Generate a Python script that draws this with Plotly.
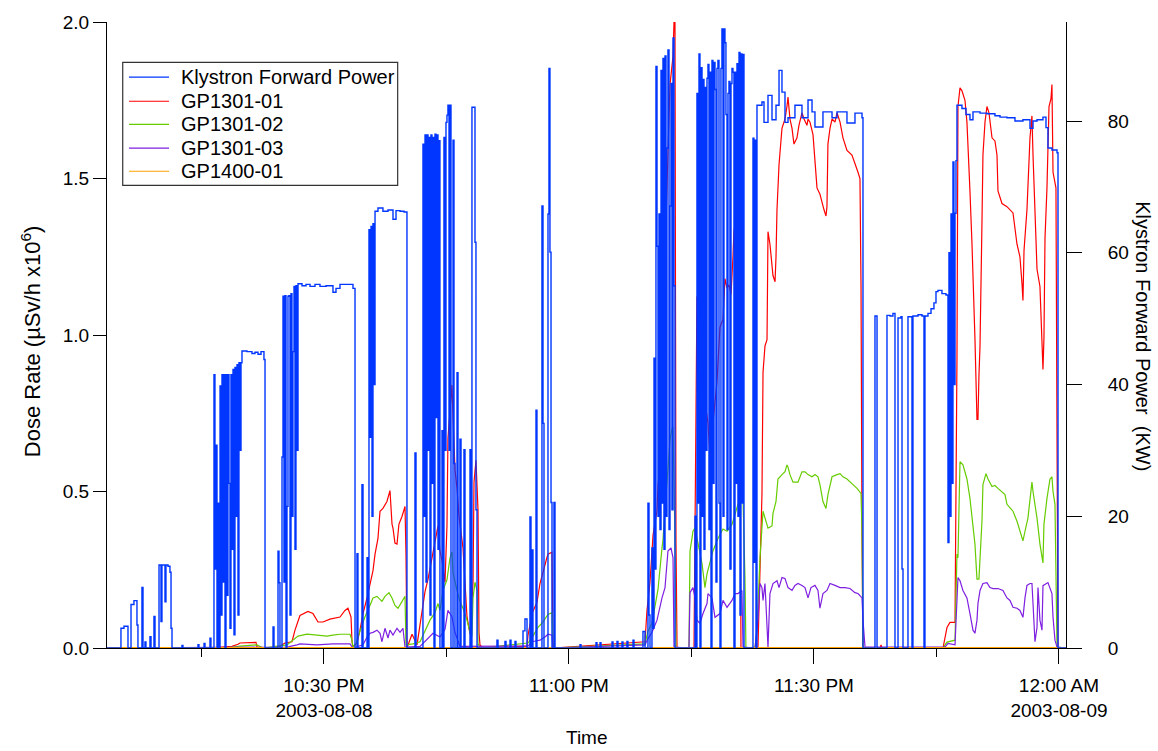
import pandas as pd
import plotly.graph_objects as go

START = pd.Timestamp("2003-08-08 22:00:00")

# Each series: (minutes after 22:00, value)
klystron_forward_power_kw = [
    (3.43, 0), (5.14, 3.0), (5.51, 3.3), (6.00, 0), (6.37, 6.6), (6.73, 7.2), (7.10, 3.5), (7.22, 0),
    (7.71, 9.2), (7.84, 0), (8.08, 0.9), (8.20, 0), (8.69, 1.7), (8.82, 0), (9.18, 4.8), (9.31, 0),
    (9.80, 12.6), (10.04, 4.0), (10.16, 12.6), (10.53, 7.0), (10.65, 12.6), (10.90, 12.4), (11.14, 11.5),
    (11.27, 3.0), (11.39, 0), (12.61, 0.4), (12.73, 0), (14.57, 0.5), (14.69, 0), (15.31, 0.7), (15.43, 0),
    (16.04, 1.5), (16.16, 0),
    (16.53, 41.5), (16.65, 12), (16.78, 30.8), (16.90, 0), (17.02, 22), (17.14, 0), (17.27, 39.8), (17.39, 5),
    (17.51, 41.5), (17.63, 10), (17.76, 41.5), (17.88, 0), (18.00, 41.5), (18.12, 8), (18.24, 41.5), (18.37, 25),
    (18.49, 3), (18.61, 41.5), (18.73, 15), (18.86, 42.3), (18.98, 2), (19.10, 42.6), (19.22, 20), (19.35, 43.0),
    (19.47, 5), (19.59, 43.3), (19.71, 30), (19.84, 43.3),
    (19.96, 45.1), (20.57, 45.0), (21.18, 44.7), (21.55, 44.9), (21.92, 44.6), (22.29, 45.0), (22.65, 43.8),
    (22.78, 0), (23.76, 3.2), (23.88, 0),
    (24.37, 14.7), (24.49, 9.9), (24.61, 0), (24.86, 29), (24.98, 53.4), (25.10, 10), (25.22, 53.5), (25.35, 0),
    (25.47, 21.5), (25.59, 53.4), (25.71, 53.5), (25.84, 5), (25.96, 53.8), (26.08, 20), (26.20, 45),
    (26.33, 54.9), (26.45, 15), (26.57, 55.0), (26.69, 30), (26.82, 55.3),
    (27.31, 55.0), (27.80, 55.2), (28.29, 54.9), (28.90, 55.2), (29.51, 54.9), (30.25, 55.0), (31.10, 54.0),
    (31.47, 54.6), (31.96, 55.2), (32.69, 55.2), (33.55, 54.6), (33.80, 0),
    (34.04, 14.3), (34.16, 0), (34.65, 24.8), (34.78, 0), (35.27, 13.7), (35.39, 0), (35.51, 63.5), (35.63, 32),
    (35.76, 64.0), (35.88, 20), (36.00, 64.4), (36.12, 40),
    (36.25, 66.3), (36.61, 66.8), (37.22, 66.3), (37.84, 66.5), (38.45, 65.1), (38.82, 66.4), (39.31, 66.3),
    (39.80, 66.2), (40.16, 0),
    (41.14, 29.6), (41.27, 0), (42.12, 76.5), (42.25, 20), (42.37, 77.9), (42.49, 10), (42.61, 77.9), (42.74, 30),
    (42.86, 77.5), (42.98, 5), (43.10, 77.9), (43.22, 25), (43.35, 77.5), (43.47, 0), (43.59, 78.0), (43.72, 35),
    (43.84, 77.9), (43.96, 15), (44.08, 77.0), (44.20, 0), (44.45, 33), (44.57, 0), (44.69, 77.5), (44.82, 30),
    (44.94, 79.8), (45.06, 80.9), (45.18, 82.4), (45.31, 30), (45.43, 82.4), (45.55, 0), (45.80, 77.1),
    (45.92, 28), (46.04, 0),
    (46.29, 41.8), (46.41, 0), (46.65, 31.7), (46.78, 0), (47.14, 30.1), (47.27, 0), (47.88, 30.1), (48.00, 0),
    (48.12, 82.1), (48.37, 82.1), (48.49, 61.6), (48.61, 21), (48.74, 0),
    (51.18, 1.2), (51.31, 0), (52.16, 1.0), (52.29, 0), (52.78, 1.2), (52.90, 0), (53.39, 1.0), (53.51, 0),
    (54.37, 2.6), (54.61, 4.4), (54.86, 0),
    (55.22, 19.9), (55.35, 0), (55.47, 14.9), (55.59, 0), (55.96, 36.1), (56.08, 0), (56.69, 67.1), (56.82, 34.1),
    (56.94, 0), (57.43, 65.9), (57.55, 88.0), (57.67, 60.1), (57.80, 22.1), (57.92, 0), (58.16, 22.1), (58.29, 0),
    (61.35, 0.5), (61.47, 0), (63.31, 0.8), (63.43, 0), (63.80, 0.8), (63.92, 0), (65.27, 0.9), (65.39, 0),
    (65.88, 1.0), (66.00, 0), (66.49, 0.9), (66.61, 0), (67.10, 1.0), (67.22, 0), (67.84, 1.2), (67.96, 0),
    (69.06, 2.5), (69.31, 0), (69.67, 22), (69.80, 5), (69.92, 0), (70.16, 15.2), (70.29, 3), (70.41, 44),
    (70.53, 12), (70.65, 88.3), (70.78, 61), (70.90, 20), (71.02, 65.9), (71.14, 18), (71.27, 87.7), (71.39, 22),
    (71.51, 89.5), (71.63, 15), (71.76, 89.9), (71.88, 20), (72.00, 75.9), (72.12, 90.8), (72.25, 18),
    (72.37, 67.1), (72.49, 85.7), (72.61, 21), (72.74, 92.6), (72.86, 55), (72.98, 0),
    (75.43, 20), (75.55, 0), (75.67, 84.2), (75.80, 22), (75.92, 90.2), (76.04, 0), (76.16, 88.1), (76.29, 20),
    (76.41, 86.3), (76.53, 15), (76.65, 85.1), (76.78, 30), (76.90, 86.5), (77.02, 88.6), (77.14, 18),
    (77.27, 87.4), (77.39, 0), (77.51, 89.2), (77.63, 25), (77.76, 88.9), (77.88, 84.8), (78.00, 10),
    (78.12, 88.0), (78.24, 89.2), (78.37, 22), (78.49, 0), (78.61, 88.0), (78.73, 94.0), (78.86, 20),
    (78.98, 94.0), (79.10, 91.9), (79.22, 81.0), (79.35, 18), (79.47, 84.2), (79.59, 86.0), (79.71, 12),
    (79.84, 85.7), (79.96, 88.0), (80.08, 87.4), (80.20, 0), (80.33, 87.4), (80.45, 25), (80.57, 88.7),
    (80.69, 20), (80.82, 90.4), (80.94, 5), (81.06, 90.2), (81.18, 22), (81.31, 90.1), (81.43, 0),
    (82.53, 77.4), (82.65, 13), (82.78, 77.1), (82.90, 0),
    (83.02, 82.4), (83.63, 82.9), (83.88, 79.8), (84.37, 83.9), (84.86, 80.2), (85.35, 82.4), (85.72, 87.7),
    (86.08, 84.4), (86.45, 79.8), (86.82, 80.5), (87.67, 82.4), (88.53, 80.5), (89.27, 83.2), (89.76, 81.4),
    (90.12, 79.1), (91.10, 81.4), (92.21, 80.5), (92.82, 81.4), (94.04, 79.7), (95.02, 81.2), (95.88, 80.5),
    (96.00, 0),
    (97.47, 50.4), (97.72, 0), (98.94, 50.5), (99.31, 50.4), (99.67, 50.8), (99.92, 0), (100.29, 50.1),
    (100.65, 50.3), (100.78, 12), (100.90, 0), (101.51, 50.3), (102.00, 0), (102.12, 50.4), (102.74, 50.6),
    (103.23, 50.4), (103.47, 0), (103.59, 50.4), (103.96, 50.8), (104.33, 51.5), (104.69, 52.4), (104.94, 54.1),
    (105.18, 54.3), (105.67, 53.8), (106.16, 53.6), (106.41, 16), (106.53, 60), (106.65, 20), (106.78, 65.9),
    (106.90, 25), (107.02, 73.8), (107.14, 40), (107.27, 66), (107.39, 74),
    (107.51, 82.4), (108.12, 81.9), (108.61, 81.0), (109.10, 80.2), (109.47, 81.4), (110.33, 81.2),
    (111.18, 81.1), (112.16, 80.8), (112.78, 80.6), (113.63, 80.5), (114.61, 80.0), (115.59, 80.2),
    (116.45, 78.9), (116.82, 80.0), (117.31, 80.2), (118.04, 80.6), (118.41, 79.0), (118.65, 75.9),
    (119.14, 75.6), (119.76, 75.2), (119.88, 0), (120.86, 0),
]

gp1301_01_dose = [
    (3.43, 0), (16.53, 0), (17.51, 0.003), (18.73, 0.005), (19.47, 0.012), (19.71, 0.016), (21.67, 0.018),
    (21.80, 0.003), (23.39, 0), (24.61, 0.006), (25.22, 0.016), (26.08, 0.02), (26.45, 0.057), (27.06, 0.104),
    (28.04, 0.117), (28.65, 0.11), (29.27, 0.083), (29.88, 0.083), (30.73, 0.092), (31.59, 0.098),
    (31.96, 0.099), (32.57, 0.12), (32.94, 0.127), (33.31, 0.099), (33.43, 0.02), (33.55, 0.003),
    (34.04, 0.016), (34.41, 0.057), (34.78, 0.11), (35.27, 0.16), (35.63, 0.206), (36.00, 0.247), (36.25, 0.30),
    (36.61, 0.35), (36.86, 0.437), (37.22, 0.446), (37.71, 0.468), (38.08, 0.503), (38.33, 0.396),
    (38.45, 0.383), (38.69, 0.335), (38.94, 0.332), (39.18, 0.396), (39.55, 0.42), (39.92, 0.452),
    (40.04, 0.3), (40.16, 0.0), (40.78, 0.044), (41.39, 0.01), (41.76, 0.08), (42.37, 0.18), (42.74, 0.22),
    (43.35, 0.31), (43.96, 0.39), (44.20, 0.31), (44.45, 0.28), (44.82, 0.21), (45.06, 0.39), (45.18, 0.67),
    (45.43, 0.77), (45.67, 0.84), (45.80, 0.74), (46.04, 0.57), (46.29, 0.51), (46.53, 0.42), (47.02, 0.32),
    (47.27, 0.196), (47.51, 0.10), (47.88, 0.045), (48.25, 0.21), (48.37, 0.53), (48.61, 0.60), (48.86, 0.44),
    (48.98, 0.05), (49.10, 0.01), (49.47, 0),
    (54.86, 0.006), (54.98, 0.04), (55.47, 0.11), (56.08, 0.146), (56.45, 0.206), (56.82, 0.246),
    (57.31, 0.29), (57.43, 0.30), (57.92, 0.306), (58.04, 0),
    (69.31, 0.02), (69.55, 0.12), (69.92, 0.21), (70.29, 0.36), (70.78, 0.44), (70.90, 0.52), (71.14, 0.585),
    (71.39, 0.946), (71.51, 0.98), (71.76, 1.25), (72.00, 1.52), (72.12, 1.58), (72.37, 1.80), (72.61, 1.85),
    (72.74, 1.89), (72.86, 2.0), (72.98, 2.0), (73.10, 0.345), (73.23, 0),
    (75.31, 0), (75.43, 0.45), (75.67, 1.12), (75.80, 1.13), (76.04, 1.04), (76.29, 1.09), (76.41, 0.92),
    (76.65, 0.785), (77.02, 0.72), (77.27, 0.61), (77.51, 0.585), (77.63, 0.72), (78.12, 0.85), (78.49, 1.025),
    (78.86, 1.05), (79.10, 1.18), (79.35, 1.15), (79.59, 1.16), (79.84, 1.13), (80.08, 1.25), (80.20, 1.33),
    (80.57, 1.40), (80.69, 1.41), (80.82, 1.37), (80.94, 0.32), (81.06, 0),
    (83.14, 0), (83.39, 0.27), (83.63, 0.49), (83.76, 0.88), (84.00, 0.965), (84.25, 0.985), (84.37, 1.33),
    (84.61, 1.29), (84.98, 1.19), (85.23, 1.17), (85.35, 1.25), (85.47, 1.40), (85.72, 1.545), (86.08, 1.66),
    (86.45, 1.69), (86.69, 1.73), (86.82, 1.76), (87.06, 1.69), (87.31, 1.66), (87.55, 1.61), (87.92, 1.63),
    (88.16, 1.67), (88.53, 1.71), (88.78, 1.69), (89.14, 1.67), (89.27, 1.69), (89.51, 1.68), (89.88, 1.64),
    (90.12, 1.545), (90.37, 1.47), (90.73, 1.45), (90.98, 1.42), (91.23, 1.40), (91.47, 1.38), (91.59, 1.41),
    (91.71, 1.61), (91.96, 1.66), (92.21, 1.69), (92.57, 1.68), (92.82, 1.71), (93.19, 1.68), (93.55, 1.63),
    (94.04, 1.59), (94.65, 1.575), (95.02, 1.55), (95.39, 1.52), (95.63, 1.50), (95.76, 1.155), (95.88, 0.37),
    (96.00, 0), (98.08, 0), (98.21, 0.01), (98.33, 0),
    (105.80, 0), (106.29, 0.066), (106.65, 0.082), (107.27, 0.082), (107.51, 0.93), (107.63, 1.73),
    (107.88, 1.79), (108.12, 1.78), (108.49, 1.75), (108.73, 1.68), (108.86, 1.61), (109.10, 1.46),
    (109.35, 1.29), (109.47, 1.21), (109.71, 0.99), (109.96, 0.73), (110.08, 0.73), (110.20, 0.87),
    (110.33, 0.965), (110.57, 1.36), (110.69, 1.575), (110.94, 1.68), (111.18, 1.73), (111.43, 1.71),
    (111.80, 1.63), (112.16, 1.62), (112.41, 1.575), (112.53, 1.46), (113.02, 1.42), (113.63, 1.41),
    (114.37, 1.39), (114.86, 1.29), (115.22, 1.25), (115.47, 1.165), (115.59, 1.11), (115.72, 1.27),
    (116.08, 1.40), (116.45, 1.63), (116.69, 1.70), (116.82, 1.575), (117.06, 1.40), (117.31, 1.21),
    (117.67, 1.155), (117.92, 0.997), (118.04, 0.89), (118.16, 0.99), (118.29, 1.31), (118.53, 1.47),
    (118.78, 1.73), (119.02, 1.755), (119.14, 1.80), (119.27, 1.52), (119.51, 1.49), (119.63, 1.47),
    (119.76, 0.67), (119.88, 0), (120.86, 0),
]

gp1301_02_dose = [
    (3.43, 0), (17.63, 0), (18.86, 0.003), (19.71, 0.006), (21.80, 0.01), (22.53, 0), (25.47, 0.01),
    (26.20, 0.025), (26.82, 0.038), (27.92, 0.044), (29.14, 0.041), (30.37, 0.038), (31.10, 0.041),
    (31.96, 0.044), (33.18, 0.044), (33.43, 0.025), (33.55, 0.003), (33.92, 0.016), (34.41, 0.054),
    (35.02, 0.10), (35.63, 0.136), (36.00, 0.16), (36.49, 0.165), (37.10, 0.149), (37.47, 0.165),
    (37.96, 0.177), (38.33, 0.16), (38.69, 0.136), (39.06, 0.127), (39.55, 0.149), (39.92, 0.165),
    (40.04, 0.01), (40.90, 0.013), (41.76, 0.02), (42.37, 0.054), (42.98, 0.089), (43.59, 0.113),
    (43.96, 0.142), (44.20, 0.12), (44.57, 0.184), (45.06, 0.218), (45.43, 0.288), (45.67, 0.307),
    (45.80, 0.24), (46.29, 0.184), (46.65, 0.149), (47.02, 0.127), (47.51, 0.089), (47.88, 0.05),
    (48.12, 0.038), (48.25, 0.16), (48.49, 0.21), (48.74, 0.184), (48.86, 0.013), (49.22, 0),
    (54.98, 0.016), (55.59, 0.038), (56.20, 0.066), (56.69, 0.079), (57.06, 0.092), (57.43, 0.107),
    (57.92, 0.113), (58.04, 0),
    (69.31, 0.013), (69.67, 0.054), (70.16, 0.079), (70.53, 0.133), (70.90, 0.187), (71.39, 0.32),
    (71.51, 0.345), (71.76, 0.44), (72.00, 0.53), (72.12, 0.585), (72.37, 0.665), (72.61, 0.70),
    (72.74, 0.706), (72.98, 0.345), (73.10, 0),
    (74.69, 0), (74.82, 0.31), (75.06, 0.35), (75.18, 0.373), (75.43, 0.383), (75.67, 0.35), (76.29, 0.27),
    (76.65, 0.193), (76.90, 0.237), (77.63, 0.31), (78.24, 0.35), (78.86, 0.38), (79.35, 0.373),
    (79.96, 0.395), (80.33, 0.43), (80.69, 0.459), (81.31, 0.478), (81.55, 0.225), (81.67, 0),
    (82.78, 0.003), (83.02, 0.057), (83.14, 0.142), (83.39, 0.288), (83.76, 0.437), (84.00, 0.415),
    (84.25, 0.40), (84.37, 0.383), (84.86, 0.39), (84.98, 0.43), (85.35, 0.468), (85.59, 0.54), (86.08, 0.554),
    (86.45, 0.563), (86.69, 0.585), (86.82, 0.578), (87.06, 0.554), (87.43, 0.53), (88.04, 0.53),
    (88.53, 0.563), (88.90, 0.563), (89.27, 0.554), (89.76, 0.547), (90.12, 0.554), (90.49, 0.547),
    (90.73, 0.522), (91.10, 0.468), (91.47, 0.446), (91.71, 0.49), (92.21, 0.547), (92.82, 0.554),
    (93.19, 0.557), (93.55, 0.547), (94.04, 0.54), (94.65, 0.525), (95.27, 0.51), (95.76, 0.494),
    (95.88, 0.373), (96.00, 0.003), (96.25, 0),
    (105.80, 0), (106.29, 0.019), (107.27, 0.025), (107.51, 0.30), (107.63, 0.288), (107.88, 0.595),
    (108.24, 0.585), (108.73, 0.54), (109.10, 0.478), (109.47, 0.383), (109.71, 0.332), (109.96, 0.22),
    (110.20, 0.22), (110.57, 0.405), (110.69, 0.522), (111.06, 0.557), (111.31, 0.54), (111.80, 0.516),
    (112.16, 0.519), (112.53, 0.51), (113.02, 0.50), (113.39, 0.49), (113.63, 0.459), (114.37, 0.437),
    (114.86, 0.405), (115.22, 0.373), (115.59, 0.342), (115.84, 0.373), (116.20, 0.415), (116.69, 0.53),
    (116.82, 0.50), (117.31, 0.415), (117.67, 0.332), (118.04, 0.272), (118.16, 0.395), (118.53, 0.478),
    (118.90, 0.54), (119.14, 0.547), (119.27, 0.50), (119.51, 0.459), (119.63, 0.206), (119.76, 0.003),
    (120.86, 0),
]

gp1301_03_dose = [
    (3.43, 0), (25.47, 0.003), (26.69, 0.01), (27.06, 0.013), (29.14, 0.01), (31.10, 0.013), (33.18, 0.013),
    (33.55, 0.0), (34.78, 0.01), (35.27, 0.035), (35.63, 0.047), (36.00, 0.05), (36.49, 0.057), (36.86, 0.047),
    (37.10, 0.02), (37.47, 0.063), (37.84, 0.032), (38.08, 0.057), (38.45, 0.041), (38.94, 0.063),
    (39.31, 0.05), (39.67, 0.063), (39.92, 0.003), (41.76, 0.005), (43.35, 0.047), (44.20, 0.035),
    (44.82, 0.06), (45.18, 0.12), (45.67, 0.10), (46.04, 0.05), (46.65, 0.005),
    (54.98, 0.006), (55.47, 0.02), (56.45, 0.025), (57.06, 0.035), (57.43, 0.044), (57.92, 0.041), (58.04, 0),
    (69.31, 0.01), (69.67, 0.03), (70.16, 0.05), (70.78, 0.089), (71.39, 0.16), (71.76, 0.193), (72.12, 0.31),
    (72.49, 0.32), (72.74, 0.288), (72.86, 0.003),
    (74.69, 0), (74.82, 0.177), (75.18, 0.193), (75.43, 0.16), (75.67, 0.089), (76.04, 0.079), (76.41, 0.11),
    (76.90, 0.142), (77.02, 0.174), (77.51, 0.16), (77.88, 0.098), (78.49, 0.11), (78.86, 0.152),
    (79.35, 0.13), (79.96, 0.152), (80.33, 0.174), (80.69, 0.174), (81.18, 0.184), (81.31, 0.003),
    (82.78, 0), (83.14, 0.089), (83.39, 0.206), (83.63, 0.193), (83.76, 0.152), (84.00, 0.206), (84.25, 0.089),
    (84.37, 0.003), (84.61, 0.174), (84.98, 0.206), (85.47, 0.215), (85.72, 0.193), (86.08, 0.225),
    (86.45, 0.222), (86.82, 0.193), (87.31, 0.184), (87.67, 0.20), (88.04, 0.206), (88.53, 0.20),
    (88.90, 0.193), (89.27, 0.16), (89.63, 0.193), (90.12, 0.20), (90.49, 0.184), (90.73, 0.127),
    (91.10, 0.174), (91.59, 0.184), (91.96, 0.206), (92.57, 0.20), (93.19, 0.193), (93.80, 0.193),
    (94.41, 0.19), (95.02, 0.177), (95.39, 0.174), (95.88, 0.16), (96.00, 0.089), (96.25, 0.003),
    (106.04, 0.003), (106.41, 0.015), (107.27, 0.01), (107.63, 0.225), (107.88, 0.215), (108.24, 0.184),
    (108.73, 0.16), (109.10, 0.11), (109.47, 0.057), (109.71, 0.047), (109.96, 0.089), (110.08, 0.142),
    (110.33, 0.184), (110.69, 0.206), (111.18, 0.209), (111.55, 0.193), (111.92, 0.19), (112.53, 0.19),
    (113.14, 0.184), (113.63, 0.16), (114.00, 0.152), (114.37, 0.13), (114.86, 0.127), (115.22, 0.12),
    (115.59, 0.098), (115.84, 0.16), (116.08, 0.20), (116.45, 0.206), (116.69, 0.206), (116.82, 0.142),
    (117.06, 0.02), (117.31, 0.066), (117.43, 0.193), (117.67, 0.089), (117.92, 0.057), (118.04, 0.199),
    (118.53, 0.206), (118.65, 0.209), (119.14, 0.174), (119.27, 0.098), (119.51, 0.025), (119.76, 0.003),
    (120.86, 0),
]

gp1400_01_dose = [(3.43, 0), (40.0, 0), (80.0, 0), (120.86, 0)]

x_range_minutes = [3.43, 120.86]
major_tick_minutes = [30, 60, 90, 120]
major_tick_text = ["10:30 PM<br>2003-08-08", "11:00 PM", "11:30 PM", "12:00 AM<br>2003-08-09"]
minor_tick_minutes = [15, 45, 75, 105]
dose_ticks = [0.0, 0.5, 1.0, 1.5, 2.0]
power_ticks = [0, 20, 40, 60, 80]


def to_time(minutes):
    return START + pd.to_timedelta(list(minutes), unit="min")


def split(pairs):
    m, v = zip(*pairs)
    return to_time(m), list(v)


FONT = "Liberation Sans, Arial, Helvetica, sans-serif"

series = [
    ("Klystron Forward Power", klystron_forward_power_kw, "#0036ff", "y2"),
    ("GP1301-01", gp1301_01_dose, "#ff0000", "y"),
    ("GP1301-02", gp1301_02_dose, "#66cc00", "y"),
    ("GP1301-03", gp1301_03_dose, "#7f1fe0", "y"),
    ("GP1400-01", gp1400_01_dose, "#ffa000", "y"),
]

fig = go.Figure()
for name, pairs, color, axis in series:
    tx, ty = split(pairs)
    if axis == "y2":
        line = dict(color=color, width=1.4, shape="hv")
    elif name == "GP1400-01":
        line = dict(color=color, width=2)
    else:
        line = dict(color=color, width=1.2)
    fig.add_trace(go.Scatter(x=tx, y=ty, name=name, yaxis=axis, mode="lines", line=line,
                             showlegend=False))

# Boxed key in the upper-left corner (paper coordinates)
key_box = dict(x0=0.0164, x1=0.3031, y0=0.7389, y1=0.9356)
key_line_x = (0.0229, 0.0647)
key_text_x = 0.0751
key_rows_y = [0.9119, 0.8734, 0.8366, 0.7986, 0.7616]

shapes = [dict(type="rect", xref="paper", yref="paper", layer="above", fillcolor="white",
               line=dict(color="#333333", width=1.2), **key_box)]
annotations = []
for (name, _, color, _), ry in zip(series, key_rows_y):
    shapes.append(dict(type="line", xref="paper", yref="paper", layer="above",
                       x0=key_line_x[0], x1=key_line_x[1], y0=ry, y1=ry,
                       line=dict(color=color, width=1.2)))
    annotations.append(dict(text=name, xref="paper", yref="paper", x=key_text_x, y=ry,
                            xanchor="left", yanchor="middle", showarrow=False,
                            font=dict(family=FONT, size=20, color="black")))

annotations += [
    dict(text="Dose Rate (\u00b5Sv/h x10<sup>6</sup>)", textangle=-90, xref="paper", yref="paper",
         x=-0.0793, y=0.49, xanchor="center", yanchor="middle", showarrow=False,
         font=dict(family=FONT, size=22, color="black")),
    dict(text="Klystron Forward Power  (KW)", textangle=90, xref="paper", yref="paper",
         x=1.0803, y=0.498, xanchor="center", yanchor="middle", showarrow=False,
         font=dict(family=FONT, size=20, color="black")),
    dict(text="Time", xref="paper", yref="paper", x=0.5, y=-0.1424, xanchor="center",
         yanchor="middle", showarrow=False, font=dict(family=FONT, size=19, color="black")),
]

axis_common = dict(showline=True, linecolor="black", linewidth=1, ticks="outside", tickcolor="black",
                   showgrid=False, zeroline=False, tickfont=dict(family=FONT, size=19, color="black"))

fig.update_layout(
    width=1158, height=751,
    margin=dict(l=107, r=92, t=16, b=103),
    paper_bgcolor="white", plot_bgcolor="white",
    font=dict(family=FONT, size=19, color="black"),
    showlegend=False,
    xaxis=dict(range=list(to_time(x_range_minutes)), type="date", tickmode="array",
               tickvals=list(to_time(major_tick_minutes)), ticktext=major_tick_text, ticklen=15,
               ticklabelstandoff=5, layer="below traces",
               minor=dict(tickmode="array", tickvals=list(to_time(minor_tick_minutes)), ticks="outside",
                          ticklen=8, tickcolor="black", showgrid=False),
               **axis_common),
    yaxis=dict(range=[0, 2.0], tickmode="array", tickvals=dose_ticks, tickformat=".1f", ticklen=13,
               **axis_common),
    yaxis2=dict(range=[0, 95.04], overlaying="y", side="right", anchor="x", tickmode="array",
                tickvals=power_ticks, ticklen=15, ticklabelposition="outside", ticklabelstandoff=22,
                **axis_common),
    shapes=shapes,
    annotations=annotations,
)

fig.write_html("out.html")
